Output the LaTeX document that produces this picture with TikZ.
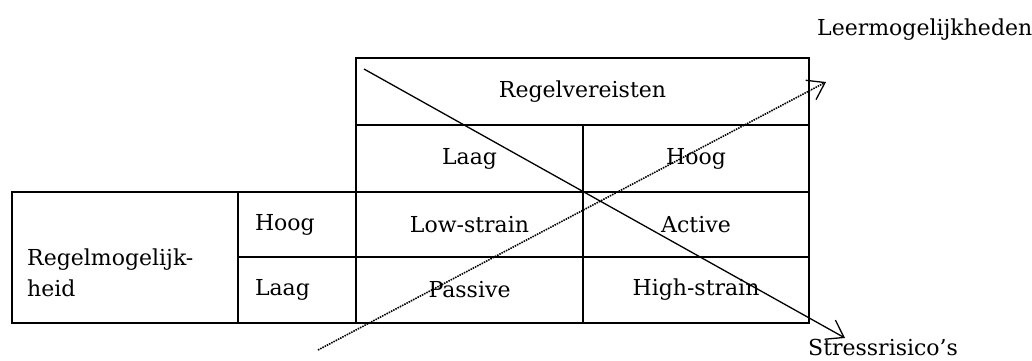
\documentclass[tikz,border=0pt]{standalone}
\usepackage{fontspec}
\setmainfont{DejaVu Serif}
\usetikzlibrary{arrows.meta}
\begin{document}
\begin{tikzpicture}[x=1pt,y=-1pt,
  cell/.style={draw,line width=2.8pt,inner sep=0pt,outer sep=0pt,font=\fontsize{22}{31}\selectfont},
  lcell/.style={cell,align=left,anchor=center},
  lbl/.style={inner sep=0pt,font=\fontsize{22}{26}\selectfont},
  barb/.style={-{Straight Barb[length=16pt,width=22pt,line width=1.3pt]}}]
\useasboundingbox (0,0) rectangle (1032,360);
% header rows
\node[cell,minimum width=453pt,minimum height=67pt] (hdr) at (582.5,91.5) {Regelvereisten};
\node[cell,minimum width=227pt,minimum height=67pt] (tlaag) at (469.5,158.5) {Laag};
\node[cell,minimum width=226pt,minimum height=67pt] (thoog) at (696,158.5) {Hoog};
% left column
\node[cell,minimum width=226pt,minimum height=131pt] (rm) at (125,257.5) {};
\node[lbl,align=left,anchor=west,font=\fontsize{22}{31}\selectfont] (rmtext) at (27,273) {Regelmogelijk-\\heid};
\node[lcell,minimum width=118pt,minimum height=65pt,text width=84pt] (lhoog) at (297,224.5) {Hoog};
\node[lcell,minimum width=118pt,minimum height=66pt,text width=84pt] (llaag) at (297,290) {Laag};
% body
\node[cell,minimum width=227pt,minimum height=65pt] (low) at (469.5,224.5) {Low-strain};
\node[cell,minimum width=226pt,minimum height=65pt] (act) at (696,224.5) {Active};
\node[cell,minimum width=227pt,minimum height=66pt] (pas) at (469.5,290) {Passive};
\node[cell,minimum width=226pt,minimum height=66pt] (high) at (696,290) {High-strain};
% arrows
\coordinate (s1) at (364,69);
\coordinate (e1) at (845,338);
\coordinate (s2) at (318,350);
\coordinate (e2) at (826,82);
\draw[barb,line width=1.3pt] (s1) -- (e1);
\draw[barb,line width=1.6pt,dash pattern=on 1.5pt off 1pt] (s2) -- (e2);
\node[lbl,anchor=west] (leer) at (817,30) {Leermogelijkheden};
\node[lbl,anchor=west] (stress) at (808,347) {Stressrisico’s};
\end{tikzpicture}
\end{document}
